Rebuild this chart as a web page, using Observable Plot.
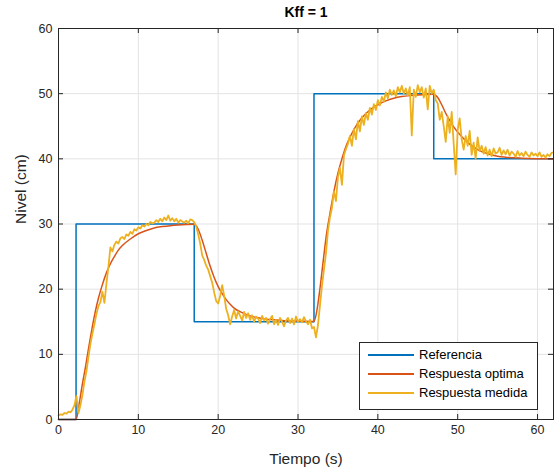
<!DOCTYPE html>
<html>
<head>
<meta charset="utf-8">
<script src="https://cdn.jsdelivr.net/npm/d3@7"></script>
<script src="https://cdn.jsdelivr.net/npm/@observablehq/plot@0.6"></script>
<style>
  html, body { margin: 0; padding: 0; background: #fff; }
  #wrap { position: relative; width: 554px; height: 470px; font-family: "Liberation Sans", Arial, Helvetica, sans-serif; color: #262626; }
  #legend { position: absolute; left: 359px; top: 342px; width: 179px; height: 68px; box-sizing: border-box; border: 1px solid #262626; background: #fff; }
  .row { position: absolute; left: 0; height: 18px; width: 100%; }
  .row svg { position: absolute; left: 8px; top: 0; }
  .row span { position: absolute; left: 59px; top: 1px; font-size: 13px; line-height: 16px; white-space: nowrap; color: #000; }
</style>
</head>
<body>
<div id="wrap"></div>
<script>
// ---- data ----
const xTicks = [0, 10, 20, 30, 40, 50, 60];
const yTicks = [0, 10, 20, 30, 40, 50, 60];

const seriesNames = ["Referencia", "Respuesta optima", "Respuesta medida"];
const seriesColors = ["#0072BD", "#D95319", "#EDB120"];

// Reference (step) signal
const refTimes  = [0, 2.2, 17, 32, 47, 62];
const refLevels = [0, 30, 15, 50, 40, 40];

// Optimal response
const optTimes = [0, 2.2, 2.6, 3.0, 3.4, 3.8, 4.2, 4.6, 5.0, 5.5, 6.0, 6.5, 7.0, 7.5, 8.0, 9.0, 10, 11, 12, 13, 14, 15, 16, 17,
  17.5, 18, 18.5, 19, 19.5, 20, 20.5, 21, 21.5, 22, 23, 24, 25, 26, 27, 28, 30, 32,
  32.4, 32.8, 33.2, 33.6, 34.0, 34.5, 35.0, 35.5, 36.0, 36.5, 37.0, 38.0, 39.0, 40.0, 41.0, 42, 43, 44, 45, 46, 47,
  47.5, 48, 48.5, 49, 49.5, 50, 51, 52, 53, 54, 55, 56, 58, 60, 62];
const optValues = [0, 0, 2.5, 5.5, 8.2, 11.2, 14.0, 16.5, 18.6, 20.7, 22.5, 23.9, 25.0, 26.0, 26.7, 27.7, 28.5, 29.0, 29.4, 29.6, 29.75, 29.85, 29.92, 29.96,
  29.2, 27.5, 25.5, 23.5, 21.8, 20.4, 19.3, 18.4, 17.7, 17.1, 16.4, 15.9, 15.6, 15.4, 15.3, 15.2, 15.1, 15.05,
  17.0, 20.6, 24.8, 28.7, 31.6, 35.0, 37.8, 40.0, 41.9, 43.3, 44.5, 46.3, 47.5, 48.3, 48.9, 49.3, 49.55, 49.7, 49.8, 49.88, 49.92,
  49.4, 48.3, 47.0, 45.9, 44.9, 44.1, 42.8, 41.8, 41.1, 40.7, 40.4, 40.25, 40.1, 40.03, 40.0];

// Measured response, sampled every 0.25 s from t = 0
const medStart = 0, medStep = 0.25;
const medValues = [
  0.6, 0.8, 0.7, 1.0, 0.9, 1.2, 1.1, 1.5,
  2.2, 3.6, 1.0, 2.2,
  3.8, 5.8, 7.4, 9.6,
  11.6, 13.2, 14.6, 16.2,
  17.4, 18.0, 19.6, 17.9,
  20.8, 23.4, 26.4, 25.8,
  26.8, 27.3, 27.0, 27.8,
  28.0, 27.7, 28.4, 28.2,
  28.8, 28.5, 29.2, 29.0,
  29.5, 29.3, 29.8, 29.6,
  30.0, 29.8, 30.3, 30.1,
  30.2, 30.6, 30.3, 30.8,
  30.4, 31.0, 30.6, 31.3,
  30.5, 30.9, 30.4, 30.8,
  30.2, 30.6, 30.4, 30.2,
  30.5, 30.1, 30.7, 30.6,
  30.3, 29.6, 28.4, 27.0,
  25.2, 24.5, 23.6, 23.0,
  22.0, 21.0, 19.5, 18.2,
  17.8, 19.0, 20.6, 19.0,
  17.0, 16.0, 14.6, 15.8,
  16.8, 15.5, 16.6, 15.9,
  15.2, 16.5, 15.6, 16.3,
  15.3, 16.0, 15.0, 15.8,
  15.5, 14.8, 15.9, 15.2,
  15.6, 14.7, 15.4, 15.9,
  14.6, 15.3, 14.5, 15.6,
  15.0, 14.3, 15.2, 15.6,
  14.8, 15.5, 14.6, 15.8,
  15.0, 15.4, 14.9, 15.7,
  15.1, 14.6, 15.3, 14.0,
  14.2, 12.6, 14.5, 17.5,
  20.5, 23.0, 25.5, 29.0,
  31.0, 32.5, 35.0, 33.5,
  37.2, 38.6, 36.0, 40.5,
  41.5, 42.3, 43.5, 42.0,
  44.6, 43.0, 45.8, 44.2,
  46.5, 45.2, 47.0, 46.0,
  47.8, 46.8, 48.4, 47.5,
  49.0, 48.2, 49.5, 48.8,
  50.2, 49.3, 50.6, 49.8,
  50.5, 49.6, 51.0, 50.2,
  51.2, 50.0, 50.8, 49.7,
  51.0, 43.6, 50.6, 49.5,
  51.3, 50.2, 51.0, 49.4,
  50.8, 47.6, 51.2, 50.0,
  50.6, 49.0, 48.5, 46.0,
  47.2, 45.0, 42.6, 46.5,
  44.0, 47.2, 42.3, 37.6,
  44.5, 46.2, 43.0, 41.4,
  43.5, 42.0, 44.3, 40.6,
  42.5, 40.0, 43.3, 41.2,
  42.0, 40.8, 41.8, 40.5,
  41.4, 40.4, 41.6, 40.8,
  41.0, 41.7, 40.6, 41.3,
  40.7, 41.4, 40.5, 41.1,
  40.8, 40.3, 41.2, 40.5,
  40.9, 40.4, 41.1, 40.6,
  40.3, 41.0, 40.5, 40.8,
  40.4, 41.0, 40.3, 40.6,
  40.2, 40.7, 40.4, 40.9,
  41.0
];

// ---- tables ----
const refData = refTimes.map((t, i) => ({t, v: refLevels[i]}));
const optData = optTimes.map((t, i) => ({t, v: optValues[i]}));
const medData = medValues.map((v, i) => ({t: medStart + i * medStep, v}));

const W = 554, H = 470, mL = 58, mR = 1, mT = 28, mB = 51;
const frameW = W - mL - mR, frameH = H - mT - mB;
const tickLen = 5;
const axisColor = "#262626";
const gridColor = "#e3e3e3";

const plot = Plot.plot({
  width: W,
  height: H,
  marginLeft: mL, marginRight: mR, marginTop: mT, marginBottom: mB,
  style: { fontFamily: '"Liberation Sans", Arial, Helvetica, sans-serif', fontSize: "12.5px", color: axisColor, background: "#fff", overflow: "visible" },
  x: { domain: [0, 62], ticks: xTicks, tickSize: 0, tickPadding: 6, label: null },
  y: { domain: [0, 60], ticks: yTicks, tickSize: 0, tickPadding: 6, label: null },
  marks: [
    Plot.ruleX(xTicks, { stroke: gridColor, strokeWidth: 1 }),
    Plot.ruleY(yTicks, { stroke: gridColor, strokeWidth: 1 }),
    Plot.line(refData, { x: "t", y: "v", curve: "step-after", stroke: seriesColors[0], strokeWidth: 1.5 }),
    Plot.line(optData, { x: "t", y: "v", curve: "monotone-x", stroke: seriesColors[1], strokeWidth: 1.5 }),
    Plot.line(medData, { x: "t", y: "v", curve: "linear", stroke: seriesColors[2], strokeWidth: 1.8, strokeLinejoin: "round" }),
    Plot.frame({ stroke: axisColor, strokeWidth: 1 }),
    Plot.ruleX(xTicks, { stroke: axisColor, insetTop: frameH - tickLen }),
    Plot.ruleX(xTicks, { stroke: axisColor, insetBottom: frameH - tickLen }),
    Plot.ruleY(yTicks, { stroke: axisColor, insetRight: frameW - tickLen }),
    Plot.ruleY(yTicks, { stroke: axisColor, insetLeft: frameW - tickLen }),
    Plot.text(["Kff = 1"], { frameAnchor: "top", dy: -16, lineAnchor: "middle", fontWeight: "bold", fontSize: 14, fill: "#000" }),
    Plot.text(["Tiempo (s)"], { frameAnchor: "bottom", dy: 40, lineAnchor: "middle", fontSize: 15.5, fill: axisColor }),
    Plot.text(["Nivel (cm)"], { frameAnchor: "left", dx: -37, rotate: -90, lineAnchor: "middle", fontSize: 15.5, fill: axisColor })
  ]
});

const wrap = document.getElementById("wrap");
wrap.append(plot);

// legend
const legend = document.createElement("div");
legend.id = "legend";
seriesNames.forEach((name, i) => {
  const row = document.createElement("div");
  row.className = "row";
  row.style.top = (3 + 19 * i) + "px";
  row.innerHTML = `<svg width="46" height="18"><line x1="0" x2="46" y1="9" y2="9" stroke="${seriesColors[i]}" stroke-width="1.8"/></svg><span>${name}</span>`;
  legend.append(row);
});
wrap.append(legend);
</script>
</body>
</html>
